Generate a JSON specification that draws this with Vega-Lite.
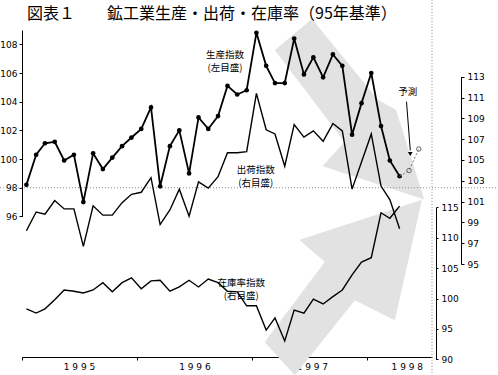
{
  "$schema": "https://vega.github.io/schema/vega-lite/v6.json",
  "width": 410,
  "height": 327,
  "autosize": "none",
  "padding": {"left": 22, "top": 30, "right": 66, "bottom": 18},
  "title": {
    "text": "図表１　　鉱工業生産・出荷・在庫率（95年基準）",
    "anchor": "start",
    "frame": "group",
    "dx": 5,
    "offset": -23,
    "font": "Noto Sans CJK JP",
    "fontSize": 16,
    "fontWeight": "normal",
    "color": "black"
  },
  "config": {
    "view": {"stroke": null},
    "axis": {"labelFont": "DejaVu Sans", "labelFontSize": 9, "labelColor": "black", "domainColor": "black", "tickColor": "black", "grid": false, "title": null}
  },
  "datasets": {
    "prod": [
      {"date": "1995-01-15", "value": 98.2}, {"date": "1995-02-15", "value": 100.3}, {"date": "1995-03-15", "value": 101.1}, {"date": "1995-04-15", "value": 101.2},
      {"date": "1995-05-15", "value": 99.9}, {"date": "1995-06-15", "value": 100.3}, {"date": "1995-07-15", "value": 97.0}, {"date": "1995-08-15", "value": 100.4},
      {"date": "1995-09-15", "value": 99.3}, {"date": "1995-10-15", "value": 100.1}, {"date": "1995-11-15", "value": 100.9}, {"date": "1995-12-15", "value": 101.5},
      {"date": "1996-01-15", "value": 102.1}, {"date": "1996-02-15", "value": 103.6}, {"date": "1996-03-15", "value": 98.1}, {"date": "1996-04-15", "value": 100.9},
      {"date": "1996-05-15", "value": 102.0}, {"date": "1996-06-15", "value": 99.0}, {"date": "1996-07-15", "value": 102.9}, {"date": "1996-08-15", "value": 102.1},
      {"date": "1996-09-15", "value": 103.0}, {"date": "1996-10-15", "value": 105.1}, {"date": "1996-11-15", "value": 104.5}, {"date": "1996-12-15", "value": 104.8},
      {"date": "1997-01-15", "value": 108.8}, {"date": "1997-02-15", "value": 106.5}, {"date": "1997-03-15", "value": 105.3}, {"date": "1997-04-15", "value": 105.3},
      {"date": "1997-05-15", "value": 108.4}, {"date": "1997-06-15", "value": 105.9}, {"date": "1997-07-15", "value": 107.1}, {"date": "1997-08-15", "value": 105.7},
      {"date": "1997-09-15", "value": 107.3}, {"date": "1997-10-15", "value": 106.5}, {"date": "1997-11-15", "value": 101.7}, {"date": "1997-12-15", "value": 103.9},
      {"date": "1998-01-15", "value": 106.0}, {"date": "1998-02-15", "value": 102.3}, {"date": "1998-03-15", "value": 99.9}, {"date": "1998-04-15", "value": 98.8}
    ],
    "forecast": [
      {"date": "1998-04-15", "value": 98.8, "kind": "actual"},
      {"date": "1998-05-15", "value": 99.2, "kind": "forecast"},
      {"date": "1998-06-15", "value": 100.7, "kind": "forecast"}
    ],
    "ship": [
      {"date": "1995-01-15", "value": 98.2}, {"date": "1995-02-15", "value": 100.0}, {"date": "1995-03-15", "value": 99.8}, {"date": "1995-04-15", "value": 101.1},
      {"date": "1995-05-15", "value": 100.3}, {"date": "1995-06-15", "value": 100.3}, {"date": "1995-07-15", "value": 96.7}, {"date": "1995-08-15", "value": 100.6},
      {"date": "1995-09-15", "value": 99.7}, {"date": "1995-10-15", "value": 99.7}, {"date": "1995-11-15", "value": 100.9}, {"date": "1995-12-15", "value": 101.7},
      {"date": "1996-01-15", "value": 101.9}, {"date": "1996-02-15", "value": 103.3}, {"date": "1996-03-15", "value": 98.8}, {"date": "1996-04-15", "value": 100.2},
      {"date": "1996-05-15", "value": 102.2}, {"date": "1996-06-15", "value": 99.6}, {"date": "1996-07-15", "value": 102.9}, {"date": "1996-08-15", "value": 102.3},
      {"date": "1996-09-15", "value": 103.4}, {"date": "1996-10-15", "value": 105.7}, {"date": "1996-11-15", "value": 105.7}, {"date": "1996-12-15", "value": 105.8},
      {"date": "1997-01-15", "value": 111.4}, {"date": "1997-02-15", "value": 107.9}, {"date": "1997-03-15", "value": 107.5}, {"date": "1997-04-15", "value": 104.4},
      {"date": "1997-05-15", "value": 108.4}, {"date": "1997-06-15", "value": 107.2}, {"date": "1997-07-15", "value": 107.8}, {"date": "1997-08-15", "value": 106.8},
      {"date": "1997-09-15", "value": 108.5}, {"date": "1997-10-15", "value": 107.8}, {"date": "1997-11-15", "value": 102.2}, {"date": "1997-12-15", "value": 104.8},
      {"date": "1998-01-15", "value": 107.5}, {"date": "1998-02-15", "value": 102.5}, {"date": "1998-03-15", "value": 101.2}, {"date": "1998-04-15", "value": 98.4}
    ],
    "inv": [
      {"date": "1995-01-15", "value": 98.3}, {"date": "1995-02-15", "value": 97.6}, {"date": "1995-03-15", "value": 98.3}, {"date": "1995-04-15", "value": 99.8},
      {"date": "1995-05-15", "value": 101.4}, {"date": "1995-06-15", "value": 101.2}, {"date": "1995-07-15", "value": 100.9}, {"date": "1995-08-15", "value": 101.4},
      {"date": "1995-09-15", "value": 102.6}, {"date": "1995-10-15", "value": 101.1}, {"date": "1995-11-15", "value": 102.6}, {"date": "1995-12-15", "value": 103.4},
      {"date": "1996-01-15", "value": 101.6}, {"date": "1996-02-15", "value": 102.9}, {"date": "1996-03-15", "value": 103.0}, {"date": "1996-04-15", "value": 101.2},
      {"date": "1996-05-15", "value": 101.9}, {"date": "1996-06-15", "value": 103.0}, {"date": "1996-07-15", "value": 101.9}, {"date": "1996-08-15", "value": 103.2},
      {"date": "1996-09-15", "value": 102.6}, {"date": "1996-10-15", "value": 101.2}, {"date": "1996-11-15", "value": 101.1}, {"date": "1996-12-15", "value": 98.8},
      {"date": "1997-01-15", "value": 98.8}, {"date": "1997-02-15", "value": 94.8}, {"date": "1997-03-15", "value": 96.8}, {"date": "1997-04-15", "value": 93.0},
      {"date": "1997-05-15", "value": 98.1}, {"date": "1997-06-15", "value": 97.6}, {"date": "1997-07-15", "value": 99.9}, {"date": "1997-08-15", "value": 99.1},
      {"date": "1997-09-15", "value": 100.3}, {"date": "1997-10-15", "value": 101.4}, {"date": "1997-11-15", "value": 103.9}, {"date": "1997-12-15", "value": 106.0},
      {"date": "1998-01-15", "value": 106.7}, {"date": "1998-02-15", "value": 114.1}, {"date": "1998-03-15", "value": 113.2}, {"date": "1998-04-15", "value": 115.2}
    ],
    "arrows": [
      {"arrow": "down", "k": 1, "date": "1997-07-10", "value": 109.76},
      {"arrow": "down", "k": 2, "date": "1998-02-05", "value": 104.12},
      {"arrow": "down", "k": 3, "date": "1998-04-03", "value": 103.42},
      {"arrow": "down", "k": 4, "date": "1998-07-01", "value": 97.21},
      {"arrow": "down", "k": 5, "date": "1997-08-14", "value": 99.51},
      {"arrow": "down", "k": 6, "date": "1997-10-23", "value": 101.19},
      {"arrow": "down", "k": 7, "date": "1997-03-15", "value": 107.6},
      {"arrow": "up", "k": 1, "date": "1998-06-25", "value": 97.14},
      {"arrow": "up", "k": 2, "date": "1997-06-02", "value": 94.35},
      {"arrow": "up", "k": 3, "date": "1997-08-21", "value": 92.82},
      {"arrow": "up", "k": 4, "date": "1997-02-11", "value": 87.24},
      {"arrow": "up", "k": 5, "date": "1997-05-17", "value": 84.94},
      {"arrow": "up", "k": 6, "date": "1997-11-24", "value": 90.17},
      {"arrow": "up", "k": 7, "date": "1998-03-31", "value": 88.77}
    ],
    "labels": [
      {"text": ["生産指数", "(左目盛)"], "date": "1996-10-07", "value": 107.25},
      {"text": ["出荷指数", "(右目盛)"], "date": "1997-01-13", "value": 99.27},
      {"text": ["在庫率指数", "(右目盛)"], "date": "1996-11-28", "value": 91.38},
      {"text": ["予測"], "date": "1998-05-11", "value": 104.69}
    ]
  },
  "layer": [
    {
      "layer": [
        {
          "data": {"name": "arrows"},
          "mark": {"type": "line", "fill": "#e2e2e2", "stroke": "#e2e2e2", "strokeWidth": 0.5},
          "encoding": {
            "x": {"field": "date", "type": "temporal"},
            "y": {"field": "value", "type": "quantitative"},
            "detail": {"field": "arrow"},
            "order": {"field": "k", "type": "quantitative"}
          }
        },
        {
          "data": {"values": [{"level": 98}]},
          "mark": {"type": "rule", "color": "#8a8a8a", "strokeDash": [1, 2], "strokeWidth": 1},
          "encoding": {
            "y": {"field": "level", "type": "quantitative"},
            "x": {"datum": {"year": 1994, "month": 10, "date": 23}, "type": "temporal"},
            "x2": {"datum": {"year": 1999, "month": 2, "date": 21}}
          }
        },
        {
          "data": {"values": [{"edge": "end"}]},
          "mark": {"type": "rule", "color": "#8a8a8a", "strokeDash": [1, 2], "strokeWidth": 1},
          "encoding": {
            "x": {"datum": {"year": 1998, "month": 7, "date": 27}, "type": "temporal"},
            "y": {"datum": 111.1, "type": "quantitative"},
            "y2": {"datum": 84.9}
          }
        },
        {
          "data": {"name": "prod"},
          "mark": {"type": "line", "color": "black", "strokeWidth": 1.8},
          "encoding": {
            "x": {
              "field": "date", "type": "temporal",
              "scale": {"domain": [{"year": 1995, "month": 1, "date": 1}, {"year": 1998, "month": 7, "date": 27}]},
              "axis": {
                "values": [
                  {"year": 1995, "month": 1, "date": 1}, {"year": 1996, "month": 1, "date": 1}, {"year": 1997, "month": 1, "date": 1}, {"year": 1998, "month": 1, "date": 1},
                  {"year": 1995, "month": 7, "date": 1}, {"year": 1996, "month": 7, "date": 2}, {"year": 1997, "month": 7, "date": 10}, {"year": 1998, "month": 5, "date": 8}
                ],
                "labelExpr": "(month(datum.value)==0 && date(datum.value)==1) ? '' : slice(timeFormat(datum.value,'%Y'),0,1)+' '+slice(timeFormat(datum.value,'%Y'),1,2)+' '+slice(timeFormat(datum.value,'%Y'),2,3)+' '+slice(timeFormat(datum.value,'%Y'),3,4)",
                "tickOpacity": {"condition": {"test": "month(datum.value)==0 && date(datum.value)==1", "value": 1}, "value": 0},
                "tickSize": 3,
                "labelPadding": 2,
                "labelFontSize": 9,
                "labelFlush": false,
                "labelOverlap": false
              }
            },
            "y": {
              "field": "value", "type": "quantitative",
              "scale": {"domain": [96, 109], "range": [186.4, 0], "zero": false, "nice": false},
              "axis": {"orient": "left", "values": [96, 98, 100, 102, 104, 106, 108], "tickSize": 3, "labelPadding": 2}
            }
          }
        },
        {
          "data": {"name": "prod"},
          "mark": {"type": "point", "filled": true, "color": "black", "size": 22, "opacity": 1},
          "encoding": {
            "x": {"field": "date", "type": "temporal"},
            "y": {"field": "value", "type": "quantitative"}
          }
        },
        {
          "data": {"name": "forecast"},
          "mark": {"type": "line", "color": "#777777", "strokeWidth": 1, "strokeDash": [2, 2]},
          "encoding": {
            "x": {"field": "date", "type": "temporal"},
            "y": {"field": "value", "type": "quantitative"}
          }
        },
        {
          "data": {"name": "forecast"},
          "transform": [{"filter": "datum.kind == 'forecast'"}],
          "mark": {"type": "point", "filled": false, "color": "#666666", "strokeWidth": 1, "size": 20, "opacity": 1},
          "encoding": {
            "x": {"field": "date", "type": "temporal"},
            "y": {"field": "value", "type": "quantitative"}
          }
        },
        {
          "data": {"name": "labels"},
          "mark": {"type": "text", "font": "Noto Sans CJK JP", "fontSize": 9.5, "lineHeight": 13, "color": "black", "align": "center", "baseline": "middle"},
          "encoding": {
            "x": {"field": "date", "type": "temporal"},
            "y": {"field": "value", "type": "quantitative"},
            "text": {"field": "text"}
          }
        },
        {
          "data": {"values": [{"from": "1998-05-07", "to": "1998-05-19", "top": 104.0, "bottom": 100.6}]},
          "mark": {"type": "rule", "color": "black", "strokeWidth": 1},
          "encoding": {
            "x": {"field": "from", "type": "temporal"},
            "x2": {"field": "to"},
            "y": {"field": "top", "type": "quantitative"},
            "y2": {"field": "bottom"}
          }
        },
        {
          "data": {"values": [{"date": "1998-05-19", "value": 100.35}]},
          "mark": {"type": "point", "shape": "triangle-down", "filled": true, "color": "black", "size": 22, "opacity": 1},
          "encoding": {
            "x": {"field": "date", "type": "temporal"},
            "y": {"field": "value", "type": "quantitative"}
          }
        }
      ]
    },
    {
      "data": {"name": "ship"},
      "mark": {"type": "line", "color": "black", "strokeWidth": 1.4},
      "encoding": {
        "x": {"field": "date", "type": "temporal"},
        "y": {
          "field": "value", "type": "quantitative",
          "scale": {"domain": [95, 113], "range": [234.1, 46.7], "zero": false, "nice": false},
          "axis": {"orient": "right", "offset": 29, "values": [95, 97, 99, 101, 103, 105, 107, 109, 111, 113], "tickSize": 3, "labelPadding": 3}
        }
      }
    },
    {
      "data": {"name": "inv"},
      "mark": {"type": "line", "color": "black", "strokeWidth": 1.4},
      "encoding": {
        "x": {"field": "date", "type": "temporal"},
        "y": {
          "field": "value", "type": "quantitative",
          "scale": {"domain": [90, 115], "range": [329.3, 177.3], "zero": false, "nice": false},
          "axis": {"orient": "right", "offset": 4, "values": [90, 95, 100, 105, 110, 115], "tickSize": 2, "labelPadding": 3}
        }
      }
    }
  ],
  "resolve": {"scale": {"y": "independent"}, "axis": {"y": "independent"}}
}
